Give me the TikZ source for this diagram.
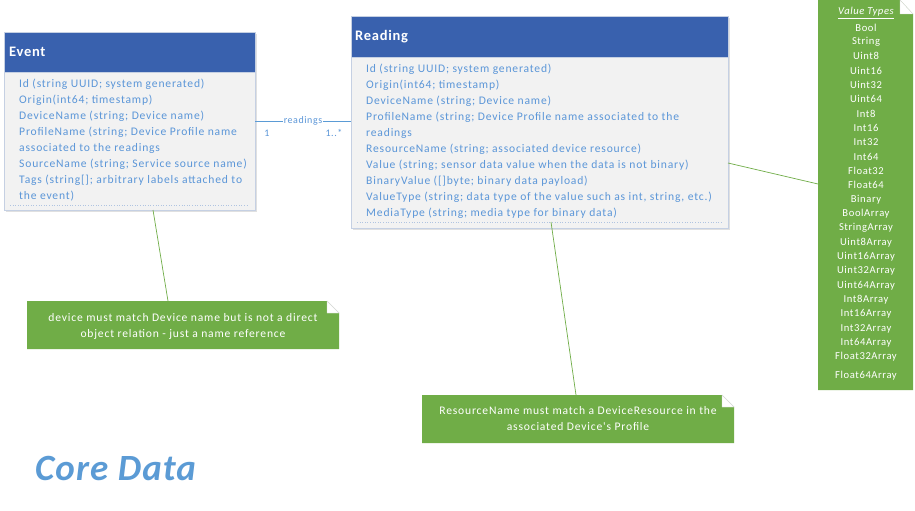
\documentclass[tikz,border=0pt]{standalone}
\usepackage{fontspec}
\setmainfont{Carlito}
\newfontfamily\attrfont{Carlito}[LetterSpace=7]
\newfontfamily\vtfont{Carlito}[LetterSpace=5.5]
\newfontfamily\headfont{Carlito}[LetterSpace=5]
\newfontfamily\titlefont{Carlito}[LetterSpace=3]
\definecolor{hdrblue}{HTML}{3961AE}
\definecolor{txtblue}{HTML}{5B96D8}
\definecolor{bodygray}{HTML}{F2F2F2}
\definecolor{bodyline}{HTML}{C5D0E3}
\definecolor{notegreen}{HTML}{70AD47}
\definecolor{titleblue}{HTML}{5B9BD5}
\tikzset{
  classbody/.style={draw=bodyline, fill=bodygray, line width=0.6pt, anchor=north west, inner sep=0pt},
  classhead/.style={draw=bodyline, fill=hdrblue, line width=0.6pt, anchor=north west, inner sep=0pt},
  shadowbox/.style={fill=black!12, draw=none, anchor=north west, inner sep=0pt},
  headtext/.style={text=white, font=\headfont\fontsize{14.5}{16}\selectfont\bfseries, anchor=west, inner sep=0pt},
  attr/.style={text=txtblue, font=\attrfont\fontsize{11.6}{13}\selectfont, anchor=west, inner sep=0pt},
  vtype/.style={text=white, font=\vtfont\fontsize{10.6}{12}\selectfont, anchor=center, inner sep=0pt},
  notetext/.style={text=white, font=\attrfont\fontsize{11.6}{16}\selectfont, align=center, anchor=center, inner sep=0pt},
  greenline/.style={draw=notegreen, line width=0.7pt},
  assoc/.style={draw=titleblue, line width=0.7pt},
  multlabel/.style={text=txtblue, font=\vtfont\fontsize{10}{12}\selectfont, inner sep=0pt},
  sepline/.style={draw=bodyline!80!txtblue, dotted, line width=0.6pt}
}
\begin{document}
\begin{tikzpicture}[x=1pt,y=-1pt]
\useasboundingbox[fill=white] (0,0) rectangle (915,511);

% ---------- Event class ----------
\node[shadowbox, minimum width=251pt, minimum height=178pt] at (6,34) {};
\node[classbody, minimum width=251pt, minimum height=178pt] (eventbody) at (4,32) {};
\node[classhead, minimum width=251pt, minimum height=40pt] (eventhead) at (4,32) {};
\node[headtext] (eventtitle) at (9,52) {Event};
\foreach \t [count=\i] in {
  {Id (string UUID; system generated)},
  {Origin(int64; timestamp)},
  {DeviceName (string; Device name)},
  {ProfileName (string; Device Profile name},
  {associated to the readings},
  {SourceName (string; Service source name)},
  {Tags (string[]; arbitrary labels attached to},
  {the event)}}
  \node[attr] (e\i) at (19,{84+16*(\i-1)}) {\t};
\path[sepline] (10,205) -- (249,205);

% ---------- Reading class ----------
\node[shadowbox, minimum width=377pt, minimum height=212pt] at (353,18) {};
\node[classbody, minimum width=377pt, minimum height=212pt] (readbody) at (351,16) {};
\node[classhead, minimum width=377pt, minimum height=41pt] (readhead) at (351,16) {};
\node[headtext] (readtitle) at (355,37) {Reading};
\foreach \t [count=\i] in {
  {Id (string UUID; system generated)},
  {Origin(int64; timestamp)},
  {DeviceName (string; Device name)},
  {ProfileName (string; Device Profile name associated to the},
  {readings},
  {ResourceName (string; associated device resource)},
  {Value (string; sensor data value when the data is not binary)},
  {BinaryValue ([]byte; binary data payload)},
  {ValueType (string; data type of the value such as int, string, etc.)},
  {MediaType (string; media type for binary data)}}
  \node[attr] (r\i) at (366,{69+16*(\i-1)}) {\t};
\path[sepline] (357,222) -- (722,222);

% ---------- association ----------
\coordinate (evright) at (255,121);
\coordinate (rdleft) at (351,121);
\draw[assoc] (evright) -- node[multlabel, fill=white, inner xsep=1pt] (assoclabel) {readings} (rdleft);
\node[multlabel] (mult1) at (267,133) {1};
\node[multlabel] (mult2) at (334,133) {1..*};

% ---------- Value Types note ----------
\fill[notegreen] (818,0) -- (900,0) -- (913,14) -- (913,390) -- (818,390) -- cycle;
\filldraw[fill=white, draw=black!15, line width=0.4pt] (900,0) -- (900,14) -- (913,14) -- cycle;
\node[inner sep=0pt, minimum width=95pt, minimum height=390pt, anchor=north west] (vtbox) at (818,0) {};
\node[vtype, font=\vtfont\fontsize{10.6}{12}\selectfont\itshape] (vt0) at (866,13) {\underline{Value Types}};
\foreach \t [count=\i] in {Bool,String,Uint8,Uint16,Uint32,Uint64,Int8,Int16,Int32,Int64,Float32,Float64,Binary,BoolArray,StringArray,Uint8Array,Uint16Array,Uint32Array,Uint64Array,Int8Array,Int16Array,Int32Array,Int64Array,Float32Array}
  \node[vtype] (vt\i) at (866,{27.5+14.33*(\i-1)}) {\t};
\node[vtype] (vt25) at (866,376) {Float64Array};

% ---------- notes ----------
\fill[notegreen] (27,301) -- (327,301) -- (339,313) -- (339,349) -- (27,349) -- cycle;
\filldraw[fill=white, draw=black!15, line width=0.4pt] (327,301) -- (327,313) -- (339,313) -- cycle;
\node[inner sep=0pt, minimum width=312pt, minimum height=48pt, anchor=north west] (note1) at (27,301) {};
\node[notetext] (note1text) at (183,326) {device must match Device name but is not a direct\\object relation - just a name reference};

\fill[notegreen] (422,395) -- (722,395) -- (734,407) -- (734,443) -- (422,443) -- cycle;
\filldraw[fill=white, draw=black!15, line width=0.4pt] (722,395) -- (722,407) -- (734,407) -- cycle;
\node[inner sep=0pt, minimum width=312pt, minimum height=48pt, anchor=north west] (note2) at (422,395) {};
\node[notetext] (note2text) at (578,419) {ResourceName must match a DeviceResource in the\\associated Device's Profile};

% ---------- note connectors ----------
\coordinate (ev1) at (153,210);
\coordinate (rd1) at (551,222);
\coordinate (rd2) at (728,163);
\draw[greenline] (ev1) -- (168,301);
\draw[greenline] (rd1) -- (576,395);
\draw[greenline] (rd2) -- (818,184);

% ---------- title ----------
\node[text=titleblue, font=\titlefont\fontsize{37}{40}\selectfont\bfseries\itshape, anchor=west, inner sep=0pt] (title) at (35,468) {Core Data};
\end{tikzpicture}
\end{document}
